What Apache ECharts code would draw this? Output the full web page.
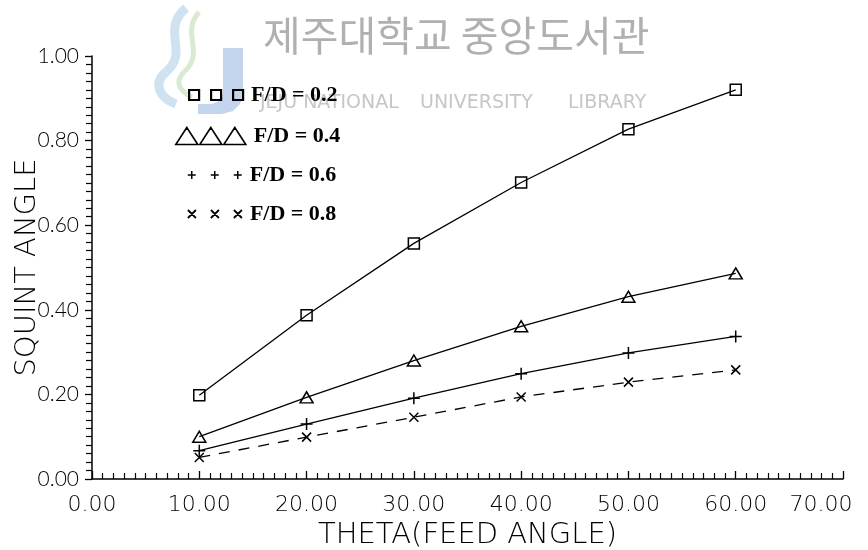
<!DOCTYPE html>
<html>
<head>
<meta charset="utf-8">
<script src="https://cdn.jsdelivr.net/npm/echarts@6/dist/echarts.min.js"></script>
<style>
  html, body { margin: 0; padding: 0; background: #fff; }
  #chart { width: 868px; height: 550px; }
</style>
</head>
<body>
<div id="chart"></div>
<script>
// Feed angle (degrees)
const theta = [10, 20, 30, 40, 50, 60];
// Squint angle for each F/D ratio
const fd02 = [0.198, 0.387, 0.557, 0.701, 0.827, 0.920];
const fd04 = [0.100, 0.193, 0.280, 0.361, 0.431, 0.486];
const fd06 = [0.067, 0.130, 0.191, 0.249, 0.298, 0.337];
const fd08 = [0.051, 0.099, 0.146, 0.194, 0.229, 0.258];
const seriesNames = ['F/D = 0.2', 'F/D = 0.4', 'F/D = 0.6', 'F/D = 0.8'];
const xMax = 70;

const pair = (ys) => theta.map((x, i) => [x, ys[i]]);

const PLUS = 'path://M0,5L10,5M5,0L5,10';
const CROSS = 'path://M0,0L10,10M10,0L0,10';

const thinSans = { fontFamily: 'DejaVu Sans', fontWeight: 200, color: '#000' };
const hollow = { color: 'rgba(0,0,0,0)', borderColor: '#000', borderWidth: 1.5 };

function legendFor(name, icon, left, top, w, h, bw) {
  return {
    left: left, top: top, padding: 0,
    itemWidth: w, itemHeight: h, itemGap: 0,
    data: [{ name: name, icon: icon,
             itemStyle: { color: 'rgba(0,0,0,0)', borderColor: '#000', borderWidth: bw } }],
    textStyle: { fontFamily: 'Liberation Serif', fontWeight: 'bold', fontSize: 22, color: '#000', padding: [0, 0, 0, 3] },
    selectedMode: false,
    z: 10
  };
}

// library emblem: a "J" bar with two curved ribbons
const jOutline = [[223, 48], [243, 48], [243, 94], [240, 104], [233, 111], [222, 114],
                  [198, 114], [198, 104], [212, 104], [219, 101], [223, 94]];
const markText = (text, left, top, font, fill) =>
  ({ type: 'text', z: 0, silent: true, left: left, top: top, style: { text: text, font: font, fill: fill } });

const chart = echarts.init(document.getElementById('chart'), null, { renderer: 'canvas' });
chart.setOption({
  backgroundColor: '#fff',
  animation: false,
  grid: { left: 92, right: 25, top: 56, bottom: 71, containLabel: false, outerBoundsMode: 'none' },
  graphic: [
    { type: 'polygon', z: 0, silent: true, shape: { points: jOutline },
      style: { fill: '#c3d5ec' } },
    { type: 'bezierCurve', z: 0, silent: true,
      shape: { x1: 186, y1: 8, cpx1: 160, cpy1: 30, cpx2: 190, cpy2: 52, x2: 166, y2: 72 },
      style: { fill: null, stroke: '#cfe2f1', lineWidth: 9 } },
    { type: 'bezierCurve', z: 0, silent: true,
      shape: { x1: 166, y1: 72, cpx1: 152, cpy1: 84, cpx2: 160, cpy2: 98, x2: 176, y2: 104 },
      style: { fill: null, stroke: '#cfe2f1', lineWidth: 9 } },
    { type: 'bezierCurve', z: 0, silent: true,
      shape: { x1: 199, y1: 12, cpx1: 180, cpy1: 34, cpx2: 206, cpy2: 52, x2: 184, y2: 72 },
      style: { fill: null, stroke: '#d9ead0', lineWidth: 5 } },
    { type: 'bezierCurve', z: 0, silent: true,
      shape: { x1: 184, y1: 72, cpx1: 174, cpy1: 82, cpx2: 180, cpy2: 92, x2: 192, y2: 97 },
      style: { fill: null, stroke: '#d9ead0', lineWidth: 5 } },
    markText('제주대학교 중앙도서관', 263, 15, '41px "Noto Sans CJK KR"', '#b0b0b0'),
    markText('JEJU NATIONAL', 260, 94, '19px "DejaVu Sans"', '#c6c6c6'),
    markText('UNIVERSITY', 420, 94, '19px "DejaVu Sans"', '#c6c6c6'),
    markText('LIBRARY', 568, 94, '19px "DejaVu Sans"', '#c6c6c6')
  ],
  legend: [
    legendFor(seriesNames[0], 'path://M0,0H10V10H0Z M22,0H32V10H22Z M44,0H54V10H44Z', 188, 84, 54, 10, 2.2),
    legendFor(seriesNames[1], 'path://M0,17L11,0L22,17Z M24,17L35,0L46,17Z M48,17L59,0L70,17Z', 175, 125, 70, 17, 1.6),
    legendFor(seriesNames[2], 'path://M0,4H8M4,0V8 M23,4H31M27,0V8 M46,4H54M50,0V8', 187, 164, 54, 8, 1.5),
    legendFor(seriesNames[3], 'path://M0,0L8,8M8,0L0,8 M23,0L31,8M31,0L23,8 M46,0L54,8M54,0L46,8', 187, 203, 54, 8, 1.8)
  ],
  xAxis: {
    type: 'value', min: 0, max: xMax, interval: 10,
    name: 'THETA(FEED ANGLE)', nameLocation: 'middle', nameGap: 42, nameMoveOverlap: false,
    nameTextStyle: Object.assign({ fontSize: 29 }, thinSans),
    axisLine: { show: true, onZero: false, lineStyle: { color: '#000', width: 1.5 } },
    axisTick: { show: true, inside: true, length: 8, lineStyle: { color: '#000', width: 1.3 } },
    minorTick: { show: true, splitNumber: 10, length: 6, lineStyle: { color: '#000', width: 1.2 } },
    splitLine: { show: false },
    axisLabel: Object.assign({
      fontSize: 22, margin: 15,
      formatter: v => (v === xMax ? '{end|' + v.toFixed(2) + '}' : v.toFixed(2)),
      rich: { end: Object.assign({ fontSize: 22, padding: [0, 44, 0, 0] }, thinSans) }
    }, thinSans)
  },
  yAxis: {
    type: 'value', min: 0, max: 1, interval: 0.2,
    name: 'SQUINT ANGLE', nameLocation: 'middle', nameGap: 50, nameMoveOverlap: false,
    nameTextStyle: Object.assign({ fontSize: 29 }, thinSans),
    axisLine: { show: true, onZero: false, lineStyle: { color: '#000', width: 1.5 } },
    axisTick: { show: true, inside: false, length: 7, lineStyle: { color: '#000', width: 1.3 } },
    minorTick: { show: true, splitNumber: 10, length: 6, lineStyle: { color: '#000', width: 1.2 } },
    splitLine: { show: false },
    axisLabel: { fontFamily: 'Lato', fontWeight: 300, color: '#000', fontSize: 21, margin: 13,
                 formatter: v => v.toFixed(2) }
  },
  series: [
    { name: seriesNames[0], type: 'line', data: pair(fd02), z: 5,
      symbol: 'rect', symbolSize: 11, itemStyle: hollow,
      lineStyle: { color: '#000', width: 1.3, type: 'solid' } },
    { name: seriesNames[1], type: 'line', data: pair(fd04), z: 5,
      symbol: 'triangle', symbolSize: [13, 11], itemStyle: hollow,
      lineStyle: { color: '#000', width: 1.3, type: 'solid' } },
    { name: seriesNames[2], type: 'line', data: pair(fd06), z: 5,
      symbol: PLUS, symbolSize: 12, itemStyle: hollow,
      lineStyle: { color: '#000', width: 1.3, type: 'solid' } },
    { name: seriesNames[3], type: 'line', data: pair(fd08), z: 5,
      symbol: CROSS, symbolSize: 9, itemStyle: hollow,
      lineStyle: { color: '#000', width: 1.3, type: [11, 9] } }
  ]
});
</script>
</body>
</html>
